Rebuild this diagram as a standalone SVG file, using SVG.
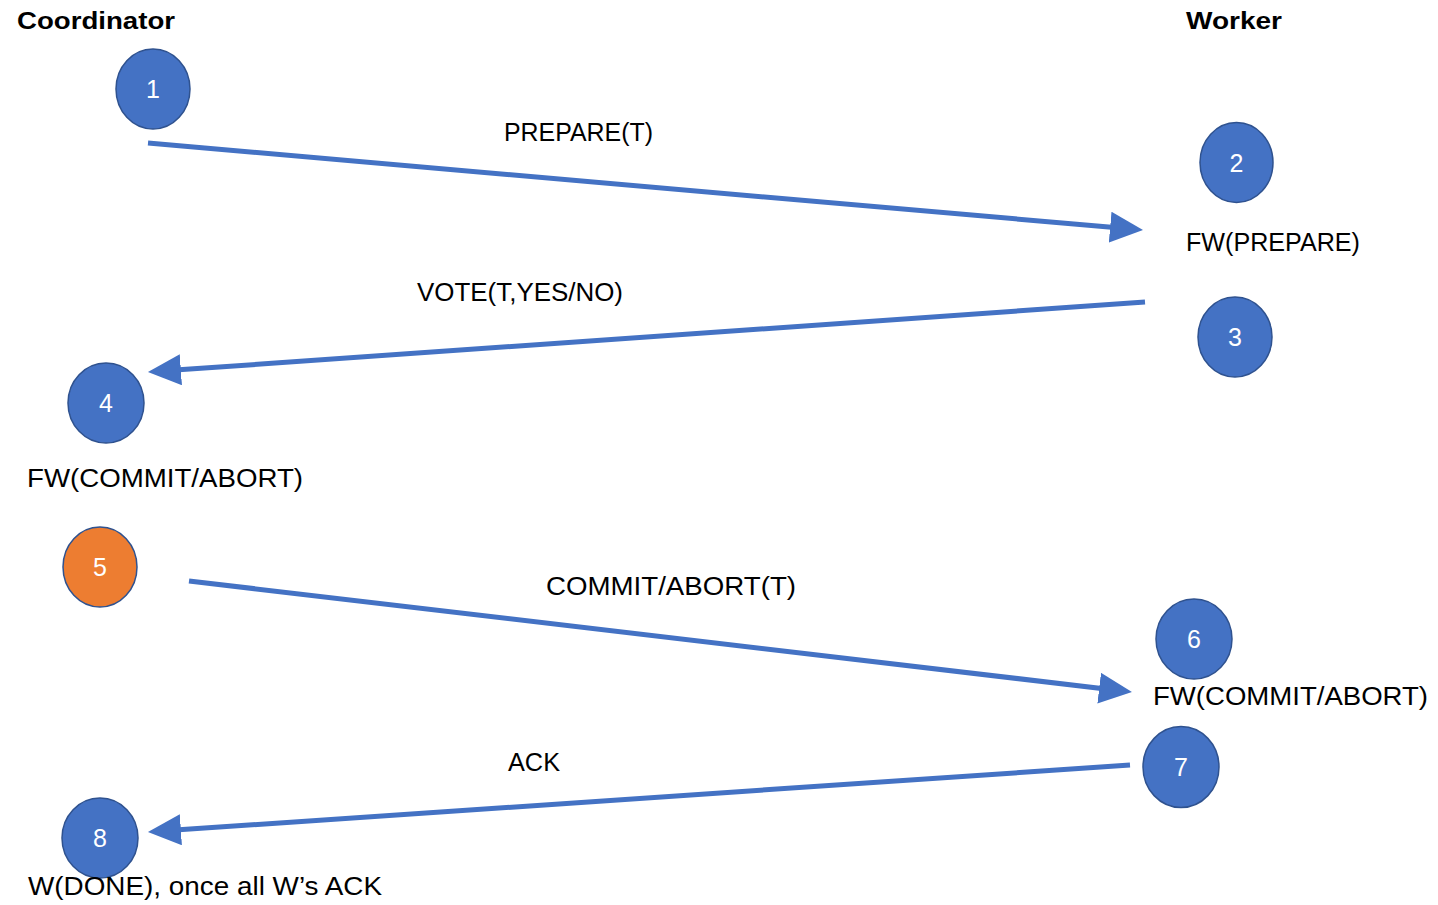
<svg xmlns="http://www.w3.org/2000/svg" width="1438" height="905" viewBox="0 0 1438 905">
<style>
.node{fill:#4472C4;stroke:#2F528F;stroke-width:1.5}
.orange{fill:#ED7D31;stroke:#2F528F;stroke-width:1.5}
.num{font-family:"Liberation Sans",Arial,sans-serif;font-size:25px;fill:#fff;text-anchor:middle}
.lbl{font-family:"Liberation Sans",Arial,sans-serif;font-size:25px;fill:#000}
.hdr{font-family:"Liberation Sans",Arial,sans-serif;font-size:24px;font-weight:bold;fill:#000}
.conn{stroke:#4472C4;stroke-width:5;fill:none;marker-end:url(#ah)}
</style>
<defs>
<marker id="ah" markerUnits="userSpaceOnUse" markerWidth="34" markerHeight="32" refX="13" refY="15.5" orient="auto" viewBox="0 0 34 32">
<path d="M0,0 L33,15.5 L0,31 z" fill="#4472C4"/>
</marker>
</defs>
<rect width="1438" height="905" fill="#fff"/>
<g id="headers">
<text class="hdr" x="17" y="29" textLength="158" lengthAdjust="spacingAndGlyphs">Coordinator</text>
<text class="hdr" x="1186" y="29" textLength="96" lengthAdjust="spacingAndGlyphs">Worker</text>
</g>
<g id="connectors">
<line class="conn" x1="148" y1="143" x2="1123.1" y2="228.3"/>
<line class="conn" x1="1145" y1="302" x2="167.9" y2="370.6"/>
<line class="conn" x1="189" y1="581" x2="1112.1" y2="689.7"/>
<line class="conn" x1="1130" y1="765" x2="167.9" y2="830.6"/>
</g>
<g id="node1"><ellipse class="node" cx="153" cy="89" rx="37" ry="40"/><text class="num" x="153" y="98">1</text></g>
<g id="node2"><ellipse class="node" cx="1236.5" cy="162.5" rx="36.5" ry="40"/><text class="num" x="1236.5" y="172">2</text></g>
<g id="node3"><ellipse class="node" cx="1235" cy="337" rx="37" ry="40"/><text class="num" x="1235" y="346">3</text></g>
<g id="node4"><ellipse class="node" cx="106" cy="403" rx="38" ry="40"/><text class="num" x="106" y="412">4</text></g>
<g id="node5"><ellipse class="orange" cx="100" cy="567" rx="37" ry="40"/><text class="num" x="100" y="576">5</text></g>
<g id="node6"><ellipse class="node" cx="1194" cy="639" rx="38" ry="40"/><text class="num" x="1194" y="648">6</text></g>
<g id="node7"><ellipse class="node" cx="1181" cy="767" rx="38" ry="40.5"/><text class="num" x="1181" y="776">7</text></g>
<g id="node8"><ellipse class="node" cx="100" cy="838" rx="38" ry="40"/><text class="num" x="100" y="847">8</text></g>
<g id="labels">
<text class="lbl" x="504" y="141" textLength="149" lengthAdjust="spacingAndGlyphs">PREPARE(T)</text>
<text class="lbl" x="1186" y="251" textLength="174" lengthAdjust="spacingAndGlyphs">FW(PREPARE)</text>
<text class="lbl" x="417" y="301" textLength="206" lengthAdjust="spacingAndGlyphs">VOTE(T,YES/NO)</text>
<text class="lbl" x="27" y="487" textLength="276" lengthAdjust="spacingAndGlyphs">FW(COMMIT/ABORT)</text>
<text class="lbl" x="546" y="595" textLength="250" lengthAdjust="spacingAndGlyphs">COMMIT/ABORT(T)</text>
<text class="lbl" x="1153" y="705" textLength="275" lengthAdjust="spacingAndGlyphs">FW(COMMIT/ABORT)</text>
<text class="lbl" x="508" y="771" textLength="52" lengthAdjust="spacingAndGlyphs">ACK</text>
<text class="lbl" x="28" y="895" textLength="354" lengthAdjust="spacingAndGlyphs">W(DONE), once all W’s ACK</text>
</g>
</svg>
